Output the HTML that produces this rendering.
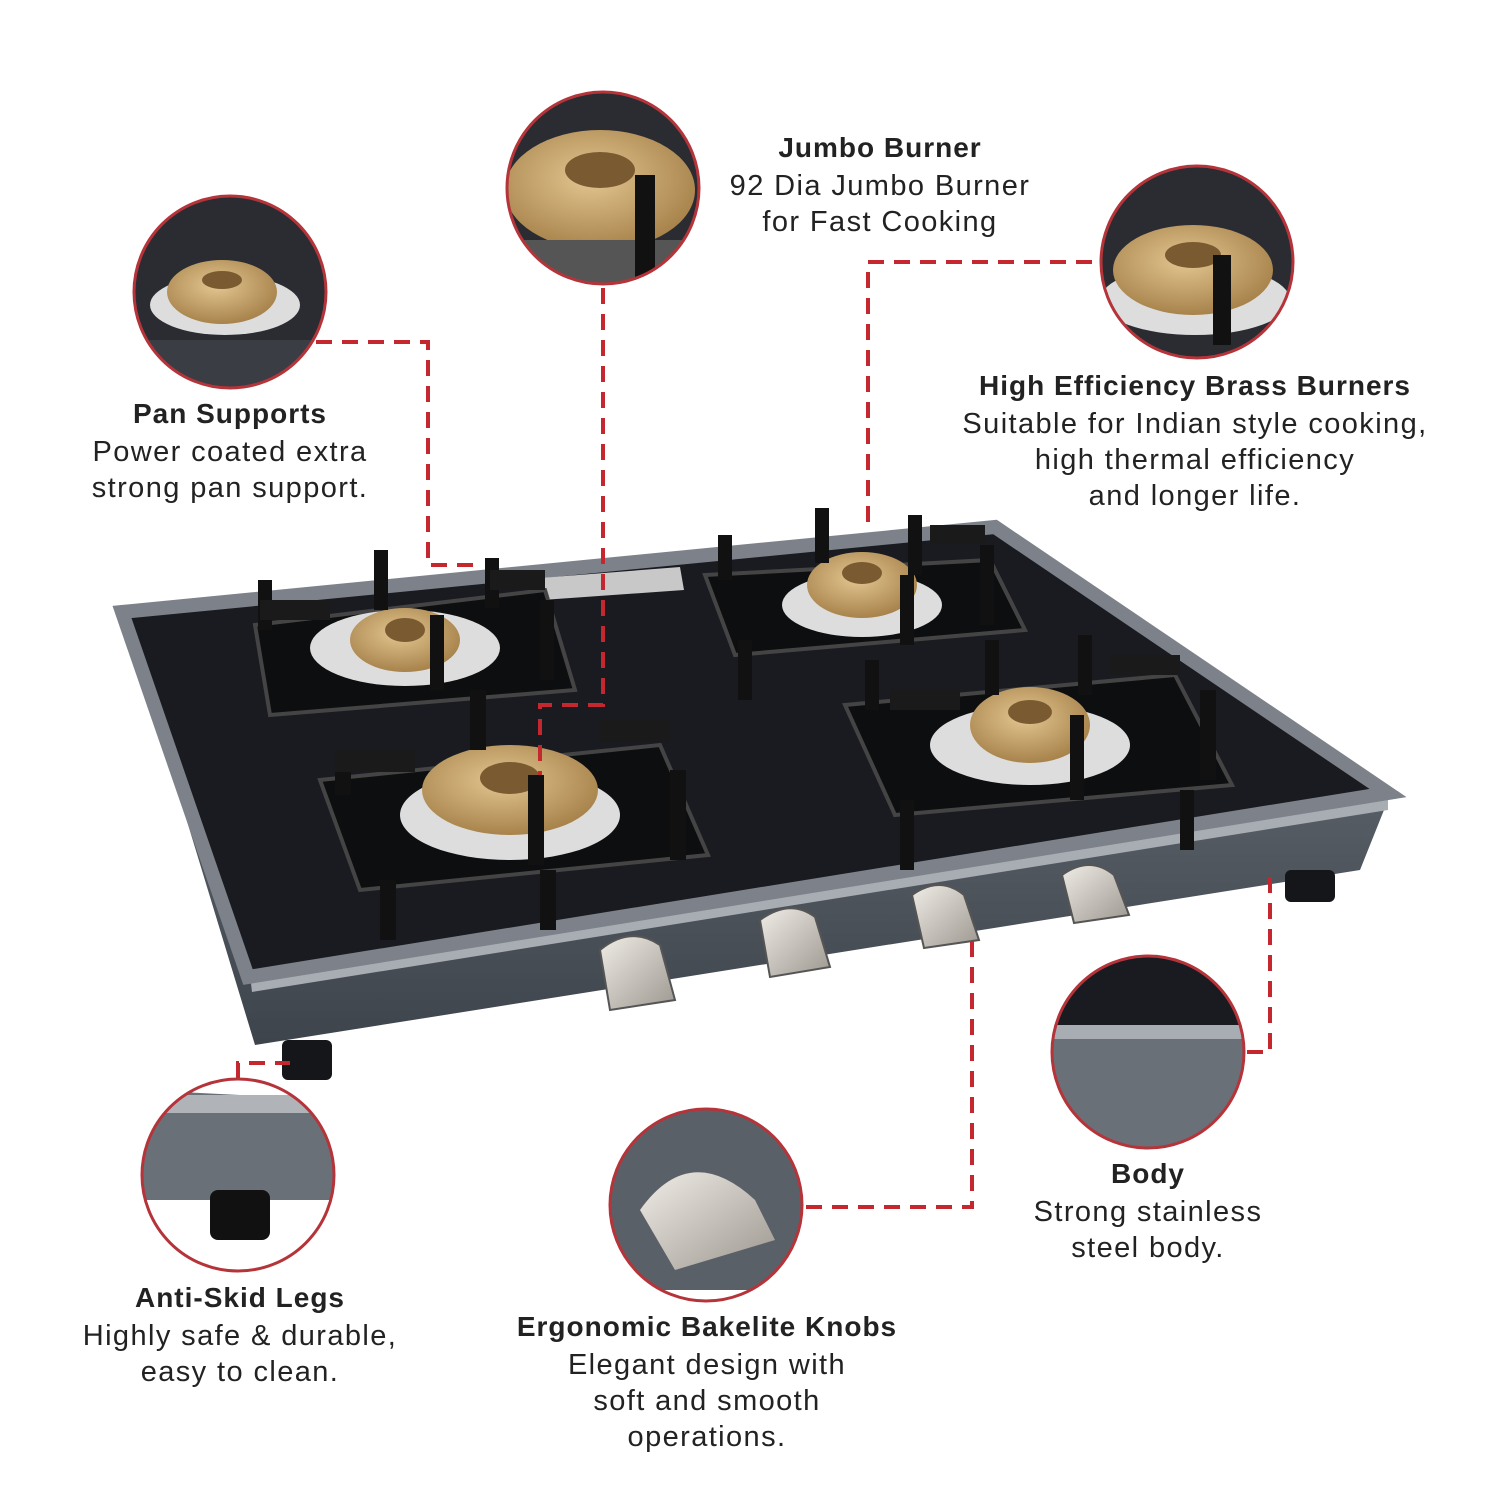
<!DOCTYPE html>
<html><head><meta charset="utf-8"><style>
body{margin:0;background:#fff;}
.t{position:absolute;font-family:"Liberation Sans",sans-serif;color:#222;text-align:center;}
.h{font-weight:bold;font-size:28px;letter-spacing:1px;margin-bottom:4px;}
.p{font-size:29px;line-height:36px;letter-spacing:1.4px;}
</style></head><body>
<div style="position:relative;width:1500px;height:1500px;overflow:hidden">
<svg width="1500" height="1500" style="position:absolute;left:0;top:0">
<defs>
<radialGradient id="br" cx="45%" cy="40%" r="60%"><stop offset="0" stop-color="#e3c690"/><stop offset="1" stop-color="#a8834c"/></radialGradient>
<linearGradient id="bd" x1="0" y1="0" x2="0" y2="1"><stop offset="0" stop-color="#6a7078"/><stop offset="1" stop-color="#3e444c"/></linearGradient>
<linearGradient id="kn" x1="0" y1="0" x2="1" y2="1"><stop offset="0" stop-color="#f0ece6"/><stop offset="1" stop-color="#9c9890"/></linearGradient>
</defs>
<polygon points="122,615 250,980 1388,800 1360,870 255,1045 135,650" fill="url(#bd)"/>
<polygon points="250,975 1388,795 1388,810 252,992" fill="#a8adb3"/>
<polygon points="122,612 995,527 1388,793 248,977" fill="#1a1b20"/>
<polygon points="122,612 995,527 1388,793 248,977" fill="none" stroke="#7d828a" stroke-width="14"/>
<rect x="282" y="1040" width="50" height="40" rx="6" fill="#15161a"/>
<rect x="1285" y="870" width="50" height="32" rx="6" fill="#15161a"/>
<polygon points="540,578 680,567 684,590 542,600" fill="#c8c8c8"/>
<g>
<polygon points="255,625 545,590 575,690 270,715" fill="#0d0e10" stroke="#444" stroke-width="4"/>
<ellipse cx="405" cy="648" rx="95" ry="38" fill="#ddd"/><ellipse cx="405" cy="640" rx="55" ry="32" fill="url(#br)"/><ellipse cx="405" cy="630" rx="20" ry="12" fill="#7a5a30"/>
<rect x="258" y="580" width="14" height="50" fill="#111"/><rect x="374" y="550" width="14" height="60" fill="#111"/><rect x="485" y="558" width="14" height="50" fill="#111"/><rect x="540" y="600" width="14" height="80" fill="#111"/><rect x="430" y="615" width="14" height="75" fill="#111"/>
<rect x="260" y="600" width="70" height="20" fill="#1a1a1a"/><rect x="490" y="570" width="55" height="20" fill="#1a1a1a"/>
</g>
<g>
<polygon points="320,780 660,745 708,855 360,890" fill="#0d0e10" stroke="#444" stroke-width="4"/>
<ellipse cx="510" cy="815" rx="110" ry="45" fill="#ddd"/><ellipse cx="510" cy="790" rx="88" ry="45" fill="url(#br)"/><ellipse cx="510" cy="778" rx="30" ry="16" fill="#7a5a30"/>
<rect x="335" y="755" width="16" height="40" fill="#111"/><rect x="470" y="690" width="16" height="60" fill="#111"/><rect x="670" y="770" width="16" height="90" fill="#111"/><rect x="528" y="775" width="16" height="90" fill="#111"/><rect x="380" y="880" width="16" height="60" fill="#111"/><rect x="540" y="870" width="16" height="60" fill="#111"/>
<rect x="335" y="750" width="80" height="22" fill="#1a1a1a"/><rect x="600" y="720" width="70" height="22" fill="#1a1a1a"/>
</g>
<g>
<polygon points="705,575 990,560 1025,630 735,655" fill="#0d0e10" stroke="#444" stroke-width="4"/>
<ellipse cx="862" cy="605" rx="80" ry="32" fill="#ddd"/><ellipse cx="862" cy="585" rx="55" ry="33" fill="url(#br)"/><ellipse cx="862" cy="573" rx="20" ry="11" fill="#7a5a30"/>
<rect x="718" y="535" width="14" height="45" fill="#111"/><rect x="815" y="508" width="14" height="55" fill="#111"/><rect x="908" y="515" width="14" height="60" fill="#111"/><rect x="980" y="545" width="14" height="80" fill="#111"/><rect x="900" y="575" width="14" height="70" fill="#111"/><rect x="738" y="640" width="14" height="60" fill="#111"/>
<rect x="930" y="525" width="55" height="18" fill="#1a1a1a"/>
</g>
<g>
<polygon points="845,705 1175,675 1232,785 895,815" fill="#0d0e10" stroke="#444" stroke-width="4"/>
<ellipse cx="1030" cy="745" rx="100" ry="40" fill="#ddd"/><ellipse cx="1030" cy="725" rx="60" ry="38" fill="url(#br)"/><ellipse cx="1030" cy="712" rx="22" ry="12" fill="#7a5a30"/>
<rect x="865" y="660" width="14" height="50" fill="#111"/><rect x="985" y="640" width="14" height="55" fill="#111"/><rect x="1078" y="635" width="14" height="60" fill="#111"/><rect x="1200" y="690" width="16" height="90" fill="#111"/><rect x="1070" y="715" width="14" height="85" fill="#111"/><rect x="900" y="800" width="14" height="70" fill="#111"/><rect x="1180" y="790" width="14" height="60" fill="#111"/>
<rect x="1110" y="655" width="70" height="20" fill="#1a1a1a"/><rect x="890" y="690" width="70" height="20" fill="#1a1a1a"/>
</g>
<g fill="url(#kn)" stroke="#555" stroke-width="2">
<path d="M600,950 q30,-25 60,-5 l15,55 l-65,10 z"/><path d="M760,920 q30,-22 55,-3 l15,50 l-60,10 z"/><path d="M912,895 q28,-20 52,0 l15,45 l-55,8 z"/><path d="M1062,875 q28,-20 52,0 l15,40 l-55,8 z"/>
</g>
<defs>
<clipPath id="c1"><circle cx="230" cy="292" r="95"/></clipPath>
<clipPath id="c2"><circle cx="603" cy="188" r="95"/></clipPath>
<clipPath id="c3"><circle cx="1197" cy="262" r="95"/></clipPath>
<clipPath id="c4"><circle cx="238" cy="1175" r="95"/></clipPath>
<clipPath id="c5"><circle cx="706" cy="1205" r="95"/></clipPath>
<clipPath id="c6"><circle cx="1148" cy="1052" r="95"/></clipPath>
</defs>
<g clip-path="url(#c1)"><rect x="130" y="190" width="200" height="200" fill="#2a2c32"/><ellipse cx="225" cy="305" rx="75" ry="30" fill="#ddd"/><ellipse cx="222" cy="292" rx="55" ry="32" fill="url(#br)"/><ellipse cx="222" cy="280" rx="20" ry="9" fill="#7a5a30"/><rect x="130" y="340" width="200" height="50" fill="#3a3d44"/></g>
<g clip-path="url(#c2)"><rect x="500" y="90" width="210" height="200" fill="#2a2c32"/><ellipse cx="600" cy="190" rx="95" ry="60" fill="url(#br)"/><ellipse cx="600" cy="170" rx="35" ry="18" fill="#7a5a30"/><rect x="500" y="240" width="210" height="50" fill="#555"/><rect x="635" y="175" width="20" height="110" fill="#111"/></g>
<g clip-path="url(#c3)"><rect x="1095" y="160" width="210" height="200" fill="#2a2c32"/><ellipse cx="1195" cy="300" rx="95" ry="35" fill="#ddd"/><ellipse cx="1193" cy="270" rx="80" ry="45" fill="url(#br)"/><ellipse cx="1193" cy="255" rx="28" ry="13" fill="#7a5a30"/><rect x="1213" y="255" width="18" height="90" fill="#111"/></g>
<g clip-path="url(#c4)"><rect x="140" y="1075" width="200" height="200" fill="#fff"/><polygon points="140,1090 340,1100 340,1200 140,1200" fill="#6a7078"/><rect x="140" y="1095" width="200" height="18" fill="#b0b4b8"/><rect x="210" y="1190" width="60" height="50" rx="8" fill="#111"/></g>
<g clip-path="url(#c5)"><rect x="605" y="1105" width="205" height="200" fill="#5a6068"/><rect x="605" y="1290" width="205" height="20" fill="#fff"/><path d="M640,1210 q50,-70 115,-10 l20,40 l-100,30 z" fill="url(#kn)"/></g>
<g clip-path="url(#c6)"><rect x="1050" y="955" width="200" height="200" fill="#6a7078"/><rect x="1050" y="955" width="200" height="70" fill="#1a1b20"/><rect x="1050" y="1025" width="200" height="14" fill="#a8adb3"/></g>
<g fill="none" stroke="#b5343a" stroke-width="3">
<circle cx="230" cy="292" r="96"/><circle cx="603" cy="188" r="96"/><circle cx="1197" cy="262" r="96"/><circle cx="238" cy="1175" r="96"/><circle cx="706" cy="1205" r="96"/><circle cx="1148" cy="1052" r="96"/>
</g>
<g fill="none" stroke="#c4282e" stroke-width="4" stroke-dasharray="16,10">
<polyline points="316,342 428,342 428,565 480,565"/>
<polyline points="603,288 603,705 540,705 540,775"/>
<polyline points="1092,262 868,262 868,530"/>
<polyline points="1247,1052 1270,1052 1270,870"/>
<polyline points="806,1207 972,1207 972,935"/>
<polyline points="238,1078 238,1063 290,1063"/>
</g>
</svg>
<div class="t" style="left:30px;top:398px;width:400px"><div class="h">Pan Supports</div><div class="p">Power coated extra<br>strong pan support.</div></div>
<div class="t" style="left:680px;top:132px;width:400px"><div class="h">Jumbo Burner</div><div class="p">92 Dia Jumbo Burner<br>for Fast Cooking</div></div>
<div class="t" style="left:920px;top:370px;width:550px"><div class="h">High Efficiency Brass Burners</div><div class="p">Suitable for Indian style cooking,<br>high thermal efficiency<br>and longer life.</div></div>
<div class="t" style="left:40px;top:1282px;width:400px"><div class="h">Anti-Skid Legs</div><div class="p">Highly safe &amp; durable,<br>easy to clean.</div></div>
<div class="t" style="left:457px;top:1311px;width:500px"><div class="h">Ergonomic Bakelite Knobs</div><div class="p">Elegant design with<br>soft and smooth<br>operations.</div></div>
<div class="t" style="left:998px;top:1158px;width:300px"><div class="h">Body</div><div class="p">Strong stainless<br>steel body.</div></div>
</div>
</body></html>
